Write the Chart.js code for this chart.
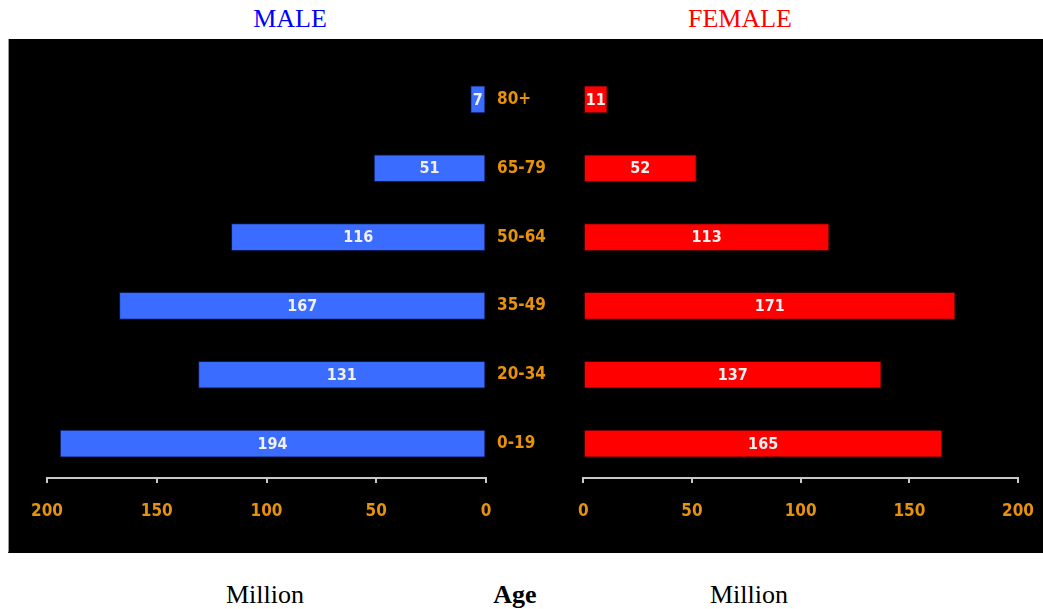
<!DOCTYPE html>
<html>
<head>
<meta charset="utf-8">
<script src="https://cdn.jsdelivr.net/npm/chart.js@4.4.1/dist/chart.umd.min.js"></script>
<style>
  html, body { margin: 0; padding: 0; background: #fff; }
  body { width: 1043px; height: 609px; position: relative; overflow: hidden; font-family: 'Liberation Serif', 'Times New Roman', serif; }
  .txt { position: absolute; font-size: 26px; line-height: 26px; white-space: nowrap; transform: translateX(-50%); }
  #panel { position: absolute; left: 8px; top: 39px; width: 1035px; height: 512px; background: #000; border-left: 1px solid #999; border-bottom: 2px dotted #000; }
  #cl { position: absolute; left: -4px; top: 0; width: 566px; height: 512px; }
  #cr { position: absolute; left: 551px; top: 0; width: 492px; height: 512px; }
</style>
</head>
<body>
<div class="txt" style="left:290px; top:6px; color:#0000ff;">MALE</div>
<div class="txt" style="left:740px; top:6px; color:#ff0000;">FEMALE</div>
<div id="panel">
  <canvas id="cl" width="566" height="512"></canvas>
  <canvas id="cr" width="492" height="512"></canvas>
</div>
<div class="txt" style="left:265px; top:582px; color:#000;">Million</div>
<div class="txt" style="left:515px; top:582px; color:#000; font-weight:bold;">Age</div>
<div class="txt" style="left:749px; top:582px; color:#000;">Million</div>

<script>
// Population by age group, in millions
const ageGroups = ['80+', '65-79', '50-64', '35-49', '20-34', '0-19'];
const maleValues = [7, 51, 116, 167, 131, 194];
const femaleValues = [11, 52, 113, 171, 137, 165];
const axisTicks = [0, 50, 100, 150, 200];

const ORANGE = '#e8920a';
const NARROW = "'DejaVu Sans Condensed', 'Liberation Sans Narrow', sans-serif";

// Writes each bar's value in white at the middle of the bar
const valueLabels = {
  id: 'valueLabels',
  afterDatasetsDraw(chart) {
    const ctx = chart.ctx;
    const meta = chart.getDatasetMeta(0);
    const data = chart.data.datasets[0].data;
    ctx.save();
    ctx.font = 'bold 16px ' + NARROW;
    ctx.fillStyle = '#f0f0f0';
    ctx.textAlign = 'center';
    ctx.textBaseline = 'middle';
    meta.data.forEach((bar, i) => {
      const cx = (bar.x + bar.base) / 2;
      ctx.fillText(String(data[i]), cx, bar.y + 1);
    });
    ctx.restore();
  }
};

// Vertical shading across each bar: darker bottom edge
function barFill(top, mid, bottom) {
  return (c) => {
    const chart = c.chart;
    const el = c.element;
    if (!el || !Number.isFinite(el.y)) return mid;
    const h = 27;
    const g = chart.ctx.createLinearGradient(0, el.y - h / 2, 0, el.y + h / 2);
    g.addColorStop(0, top);
    g.addColorStop(0.55, mid);
    g.addColorStop(1, bottom);
    return g;
  };
}

function xAxis(reverse) {
  return {
    type: 'linear',
    reverse: reverse,
    min: 0,
    max: 200,
    afterBuildTicks(scale) { scale.ticks = axisTicks.map(v => ({ value: v })); },
    afterFit(scale) { scale.height = 73; },
    border: { display: true, color: '#c8c8c8', width: 2 },
    grid: { drawOnChartArea: false, drawTicks: true, tickLength: 5, color: '#c8c8c8', lineWidth: 2 },
    ticks: { color: ORANGE, padding: 18, font: { family: NARROW, size: 17, weight: 'bold' }, maxRotation: 0 }
  };
}

const common = {
  type: 'bar',
  plugins: [valueLabels]
};

// Male side: bars grow leftwards, age labels sit on the right axis
new Chart(document.getElementById('cl'), {
  ...common,
  data: {
    labels: ageGroups,
    datasets: [{
      data: maleValues,
      backgroundColor: barFill('#3a6cff', '#3a6cff', '#1d3fb0'),
      borderColor: '#0c1a55',
      borderWidth: 1,
      borderSkipped: false,
      barThickness: 27
    }]
  },
  options: {
    indexAxis: 'y',
    responsive: false,
    animation: false,
    layout: { padding: { left: 42, right: 0, top: 26, bottom: 0 } },
    plugins: { legend: { display: false }, tooltip: { enabled: false } },
    scales: {
      x: xAxis(true),
      y: {
        position: 'right',
        afterFit(scale) { scale.width = 85; },
        border: { display: false },
        grid: { display: false },
        ticks: { color: ORANGE, padding: 3, font: { family: NARROW, size: 17, weight: 'bold' } }
      }
    }
  }
});

// Female side: bars grow rightwards
new Chart(document.getElementById('cr'), {
  ...common,
  data: {
    labels: ageGroups,
    datasets: [{
      data: femaleValues,
      backgroundColor: barFill('#ff1010', '#ff0000', '#c00000'),
      borderColor: '#4a0000',
      borderWidth: 1,
      borderSkipped: false,
      barThickness: 27
    }]
  },
  options: {
    indexAxis: 'y',
    responsive: false,
    animation: false,
    layout: { padding: { left: 0, right: 0, top: 26, bottom: 0 } },
    plugins: { legend: { display: false }, tooltip: { enabled: false } },
    scales: {
      x: xAxis(false),
      y: { display: false }
    }
  }
});
</script>
</body>
</html>
